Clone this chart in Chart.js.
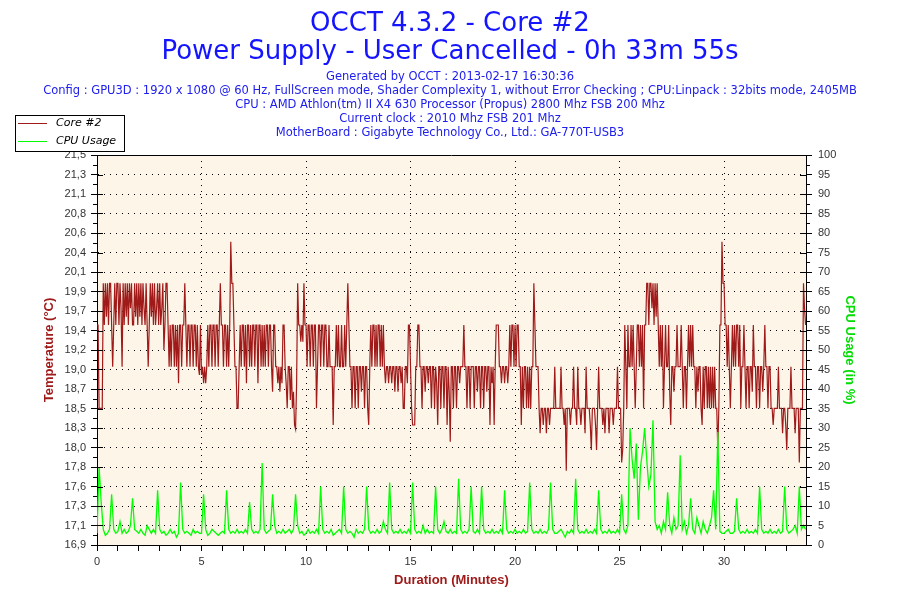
<!DOCTYPE html>
<html>
<head>
<meta charset="utf-8">
<title>OCCT 4.3.2 - Core #2</title>
<script src="https://cdn.jsdelivr.net/npm/chart.js@4.4.0/dist/chart.umd.min.js"></script>
<style>
  html, body { margin: 0; padding: 0; background: #fff; }
  #wrap { width: 900px; height: 600px; }
</style>
</head>
<body>
<div id="wrap"><canvas id="myChart" width="900" height="600"></canvas></div>
<script>
// Texte de l'en-tête
var titleLines = ['OCCT 4.3.2 - Core #2', 'Power Supply - User Cancelled - 0h 33m 55s'];
var infoLines = [
  'Generated by OCCT : 2013-02-17 16:30:36',
  'Config : GPU3D : 1920 x 1080 @ 60 Hz, FullScreen mode, Shader Complexity 1, without Error Checking ; CPU:Linpack : 32bits mode, 2405MB',
  'CPU : AMD Athlon(tm) II X4 630 Processor (Propus) 2800 Mhz FSB 200 Mhz',
  'Current clock : 2010 Mhz FSB 201 Mhz',
  'MotherBoard : Gigabyte Technology Co., Ltd.: GA-770T-USB3'
];
var seriesNames = ['Core #2', 'CPU Usage'];

var durationMin = 33.92;
// pas d'échantillonnage (minutes)
var tempStep = 0.05;
var cpuStep = 0.1;

// Température du core #2 (°C), 20 mesures par minute
var core2Temp = [
  19.5, 19.5, 18.5, 18.5, 18.5, 18.5, 20.0, 19.5, 20.0, 19.6, 20.0, 19.5, 20.0, 20.0, 19.5, 19.0, 19.5, 20.0, 19.5, 20.0,
  20.0, 19.5, 20.0, 19.7, 19.0, 20.0, 19.5, 20.0, 19.6, 20.0, 19.5, 20.0, 19.7, 20.0, 19.5, 19.5, 20.0, 19.6, 20.0, 19.5,
  20.0, 19.6, 20.0, 19.5, 20.0, 19.7, 19.5, 20.0, 19.5, 19.0, 19.5, 20.0, 19.6, 20.0, 19.5, 20.0, 19.5, 19.7, 20.0, 19.5,
  20.0, 19.5, 19.7, 20.0, 19.2, 19.5, 20.0, 20.0, 19.5, 19.0, 19.5, 19.0, 19.5, 19.5, 19.0, 19.5, 19.0, 19.5, 18.8, 19.5,
  19.5, 19.0, 19.5, 19.5, 20.0, 19.5, 19.0, 19.5, 19.5, 19.0, 19.5, 19.5, 19.0, 19.5, 19.5, 19.0, 19.5, 19.0, 18.9, 19.5,
  18.9, 19.0, 18.8, 19.0, 18.8, 19.0, 19.5, 19.0, 19.5, 19.5, 19.0, 19.5, 19.5, 19.0, 19.5, 19.5, 19.0, 19.5, 20.0, 19.5,
  19.5, 19.0, 19.5, 19.5, 19.0, 19.5, 19.0, 19.5, 20.5, 20.0, 20.0, 19.5, 19.0, 19.0, 18.5, 18.5, 19.0, 19.5, 19.0, 19.5,
  19.5, 19.0, 19.5, 18.8, 19.5, 19.5, 19.0, 19.5, 19.0, 19.5, 19.5, 19.0, 19.5, 19.5, 18.8, 19.5, 19.5, 19.0, 19.5, 19.0,
  19.5, 19.0, 19.5, 19.5, 19.0, 19.5, 19.5, 19.0, 18.7, 19.5, 19.5, 19.0, 19.0, 18.8, 19.0, 18.7, 19.0, 18.8, 19.5, 19.5,
  19.0, 18.8, 18.5, 19.0, 19.0, 18.6, 19.0, 18.5, 18.7, 18.3, 18.25, 18.8, 20.0, 19.5, 19.5, 19.3, 19.5, 19.3, 20.0, 19.5,
  19.5, 19.0, 19.5, 19.5, 19.0, 19.5, 19.5, 19.0, 19.5, 19.5, 18.5, 19.0, 19.5, 19.5, 19.0, 19.5, 19.5, 19.0, 19.5, 19.5,
  19.0, 19.0, 19.5, 19.0, 19.0, 19.0, 18.3, 19.0, 19.0, 19.5, 19.0, 19.5, 19.0, 19.0, 19.5, 19.0, 19.0, 19.5, 19.0, 19.5,
  20.0, 19.5, 19.0, 19.0, 18.5, 19.0, 19.0, 18.5, 19.0, 19.0, 18.5, 19.0, 19.0, 18.7, 19.0, 19.0, 18.5, 19.0, 19.0, 18.5,
  18.3, 19.0, 19.5, 19.0, 19.5, 19.5, 19.0, 19.5, 19.0, 19.5, 19.5, 19.0, 19.5, 19.0, 19.5, 19.0, 18.8, 19.0, 19.0, 18.8,
  19.0, 19.0, 18.8, 19.0, 19.0, 18.7, 19.0, 19.0, 18.7, 19.0, 19.0, 18.8, 19.0, 18.5, 18.5, 19.0, 19.0, 18.8, 19.5, 19.5,
  19.0, 18.5, 18.3, 18.3, 18.3, 19.0, 19.0, 19.5, 19.5, 19.0, 19.0, 18.5, 19.0, 19.0, 18.7, 19.0, 19.0, 18.8, 19.0, 19.0,
  18.5, 19.0, 19.0, 18.5, 19.0, 18.8, 18.3, 19.0, 19.0, 18.5, 19.0, 19.0, 18.5, 19.0, 19.0, 18.3, 19.0, 18.7, 18.1, 19.0,
  19.0, 18.5, 19.0, 19.0, 18.5, 19.0, 19.0, 18.8, 19.0, 19.0, 19.0, 19.5, 19.0, 19.0, 18.5, 19.0, 19.0, 18.5, 19.0, 19.0,
  19.0, 18.5, 19.0, 19.0, 18.7, 19.0, 19.0, 18.5, 19.0, 19.0, 18.5, 19.0, 19.0, 18.7, 19.0, 19.0, 18.3, 19.0, 18.8, 19.0,
  18.3, 19.0, 19.5, 19.5, 19.5, 19.0, 19.0, 18.8, 19.0, 19.0, 18.8, 19.0, 19.0, 18.8, 19.0, 19.5, 19.0, 19.5, 19.5, 19.0,
  19.5, 19.0, 19.5, 19.5, 19.0, 19.0, 18.3, 19.0, 18.5, 19.0, 19.0, 18.5, 19.0, 18.5, 19.0, 18.5, 19.0, 19.0, 20.0, 19.5,
  19.0, 19.0, 19.0, 18.5, 18.2, 18.5, 18.5, 18.3, 18.5, 18.5, 18.2, 18.5, 18.5, 18.3, 18.5, 18.5, 18.5, 18.5, 19.0, 18.5,
  18.5, 18.5, 18.5, 18.5, 19.0, 18.5, 18.5, 18.3, 18.5, 17.75, 18.5, 18.5, 18.5, 18.3, 18.5, 18.5, 19.0, 18.5, 18.5, 18.3,
  19.0, 18.5, 18.5, 18.3, 18.5, 18.5, 18.5, 18.2, 19.0, 18.5, 18.5, 18.5, 18.3, 18.0, 18.5, 18.5, 18.5, 18.3, 18.0, 18.5,
  19.0, 18.5, 18.5, 18.5, 18.3, 18.5, 18.2, 18.5, 18.5, 18.5, 18.2, 18.5, 18.5, 18.5, 18.3, 18.5, 18.5, 18.5, 19.0, 18.5,
  18.5, 18.5, 17.85, 18.0, 18.5, 19.5, 19.0, 18.5, 19.5, 19.0, 19.0, 19.5, 19.0, 19.5, 19.0, 18.5, 19.0, 19.5, 19.5, 19.0,
  19.5, 19.0, 19.5, 18.5, 19.5, 19.5, 20.0, 20.0, 19.5, 20.0, 20.0, 19.7, 20.0, 19.5, 20.0, 19.6, 20.0, 19.5, 19.0, 19.5,
  19.0, 19.5, 18.5, 19.0, 19.5, 19.0, 19.0, 19.5, 18.7, 18.3, 19.0, 19.0, 18.7, 19.0, 19.0, 19.5, 19.0, 19.0, 19.0, 19.5,
  19.0, 18.5, 19.0, 19.0, 18.5, 19.0, 19.5, 19.0, 19.5, 19.0, 19.5, 19.0, 19.0, 18.5, 19.0, 18.7, 19.0, 19.0, 18.5, 18.3,
  19.0, 18.5, 19.0, 19.0, 18.5, 19.0, 18.5, 19.0, 18.5, 19.0, 18.5, 19.0, 18.5, 18.5, 18.0, 18.5, 19.5, 19.5, 20.5, 20.0,
  20.0, 19.5, 19.5, 19.0, 19.5, 19.0, 18.5, 19.0, 19.5, 19.0, 19.5, 19.0, 19.5, 19.5, 19.0, 19.5, 18.5, 19.0, 19.0, 19.5,
  19.0, 18.5, 19.0, 19.0, 18.5, 19.0, 19.0, 18.7, 19.5, 19.0, 19.0, 18.5, 19.0, 19.0, 18.5, 19.0, 19.0, 18.7, 19.0, 19.5,
  19.0, 19.0, 18.5, 19.0, 19.0, 18.5, 18.5, 18.3, 18.5, 18.5, 18.5, 18.5, 19.0, 18.5, 18.5, 18.5, 18.2, 18.5, 18.5, 18.3,
  18.0, 18.5, 18.5, 18.5, 19.0, 18.5, 18.5, 18.5, 18.2, 18.5, 18.5, 18.5, 17.85, 18.5, 18.5, 18.5, 20.0, 19.7, 19.5
];

// Charge CPU (%), 10 mesures par minute
var cpuUsage = [
  3, 20, 11, 4, 2.5, 3, 4, 13, 4, 3,
  3.5, 6, 3, 4, 3, 3.5, 5, 12, 4, 3.5,
  3, 4, 3, 2.5, 5, 4, 3, 4, 3, 14,
  4, 3, 3.5, 2.5, 3, 4, 3, 3.5, 2, 3,
  16, 4, 3, 3.5, 3, 2.5, 4, 3, 3.5, 3,
  3, 13, 4, 2.5, 3, 4, 3.5, 3, 2.5, 3,
  3.5, 3, 14, 4, 3, 3.5, 3, 4, 3, 3.5,
  3, 4, 3, 11, 4, 3, 3.5, 3, 4, 21,
  4, 3, 3.5, 4, 13, 5, 3, 3.5, 3, 4,
  3, 3.5, 4, 3, 4, 13, 5, 3, 3.5, 2.5,
  3, 4, 3, 3.5, 3, 4, 3, 15, 4, 3,
  3.5, 3, 4, 2.5, 3, 3.5, 4, 3, 15, 4,
  3, 3.5, 3, 2, 4, 3, 3.5, 3, 4, 15,
  4, 3, 3.5, 3, 4, 3, 3.5, 6, 4, 3,
  16, 4, 3, 3.5, 3, 4, 3, 3.5, 3, 4,
  3, 16, 4, 3, 3.5, 3, 5, 3, 4, 3,
  3.5, 3, 15, 4, 3, 4, 6, 3.5, 3, 4,
  3, 3.5, 3, 17, 4, 3, 3.5, 3, 4, 15,
  3.5, 3, 4, 3, 15, 4, 3, 3.5, 3, 4,
  3, 3.5, 3, 4, 3, 14, 4, 3, 3.5, 3,
  4, 3, 3.5, 3, 4, 3, 3.5, 16, 4, 3,
  3.5, 3, 4, 3, 3.5, 3, 4, 16, 4, 3,
  3, 3.5, 4, 3, 2, 3.5, 3, 4, 3, 17,
  4, 3, 3.5, 3, 4, 3, 3.5, 3, 4, 3,
  14, 4, 3, 3.5, 3, 4, 3, 3.5, 3, 4,
  3, 13, 4, 3, 5, 30, 22, 17, 26, 6.5,
  20, 24, 30, 22, 15, 18, 32, 6, 4, 5,
  3, 6, 4, 13.5, 5, 3, 7, 4, 5, 23,
  4, 6, 3, 5, 12, 4, 3, 7, 5, 3,
  6, 4, 3, 5, 7, 14, 4, 29, 3.5, 3,
  3, 3.5, 4, 3, 3, 3.5, 12, 4, 3, 3.5,
  3, 4, 3, 3.5, 3, 4, 3, 15, 4, 3,
  3.5, 3, 4, 3, 3.5, 3, 4, 3, 3.5, 15,
  4, 3, 3.5, 4, 5, 3, 15, 4, 5, 4
];

// Axe des températures : 21 graduations alignées sur celles du % CPU
var tempMin = 16.86;
var tempMax = 21.54;
var tempTickLabels = ['16,9', '17,1', '17,3', '17,6', '17,8', '18,0', '18,3', '18,5', '18,7', '19,0',
  '19,2', '19,4', '19,7', '19,9', '20,1', '20,4', '20,6', '20,8', '21,1', '21,3', '21,5'];

var tempColor = '#a01a1a';
var cpuColor = '#00ff00';

function toPoints(values, step) {
  return values.map(function(v, i) { return { x: i * step, y: v }; });
}

// fond crème + cadre du graphique + petites graduations
var plotFrame = {
  id: 'plotFrame',
  beforeDraw: function(chart) {
    var a = chart.chartArea, c = chart.ctx;
    c.save();
    c.fillStyle = '#fdf6e8';
    c.fillRect(a.left, a.top, a.right - a.left, a.bottom - a.top);
    c.restore();
  },
  afterDraw: function(chart) {
    var a = chart.chartArea, c = chart.ctx;
    var yl = chart.scales.yTemp;
    c.save();
    c.strokeStyle = '#000';
    c.lineWidth = 1;
    c.beginPath();
    c.moveTo(a.left, Math.round(a.top) + 0.5);
    c.lineTo(a.right, Math.round(a.top) + 0.5);
    for (var k = 0; k < yl.ticks.length; k++) {
      var py = Math.round(yl.getPixelForTick(k)) + 0.5;
      c.moveTo(a.left, py); c.lineTo(a.left + 6, py);
      c.moveTo(a.right - 6, py); c.lineTo(a.right, py);
      if (k < yl.ticks.length - 1) {
        var my = Math.round((yl.getPixelForTick(k) + yl.getPixelForTick(k + 1)) / 2) + 0.5;
        c.moveTo(a.left - 4, my); c.lineTo(a.left, my);
        c.moveTo(a.right, my); c.lineTo(a.right + 4, my);
      }
    }
    c.stroke();
    c.restore();
  }
};

// légende encadrée en haut à gauche
var boxLegend = {
  id: 'boxLegend',
  afterDraw: function(chart) {
    var c = chart.ctx;
    c.save();
    c.fillStyle = '#fff';
    c.fillRect(15, 115, 109, 37);
    c.strokeStyle = '#000';
    c.lineWidth = 1;
    c.strokeRect(15.5, 115.5, 109, 36);
    c.font = 'italic 11px "DejaVu Sans"';
    c.textBaseline = 'middle';
    chart.data.datasets.forEach(function(ds, i) {
      var y = 123.5 + i * 18;
      c.strokeStyle = ds.borderColor;
      c.beginPath();
      c.moveTo(18, y); c.lineTo(47, y);
      c.stroke();
      c.fillStyle = '#000';
      c.fillText(ds.label, 56, y);
    });
    c.restore();
  }
};

var ctx = document.getElementById('myChart').getContext('2d');

var occtChart = new Chart(ctx, {
  type: 'line',
  data: {
    datasets: [{
      label: seriesNames[0],
      data: toPoints(core2Temp, tempStep),
      yAxisID: 'yTemp',
      borderColor: tempColor,
      borderWidth: 1.2,
      pointRadius: 0,
      tension: 0,
      order: 2
    }, {
      label: seriesNames[1],
      data: toPoints(cpuUsage, cpuStep),
      yAxisID: 'yCpu',
      borderColor: cpuColor,
      borderWidth: 1.3,
      pointRadius: 0,
      tension: 0,
      // dessinée au-dessus de la température
      order: 1
    }]
  },
  options: {
    responsive: false,
    animation: false,
    devicePixelRatio: 1,
    layout: { padding: 0 },
    plugins: {
      legend: { display: false },
      tooltip: { enabled: false },
      title: {
        display: true,
        text: titleLines,
        color: '#1414ff',
        font: { family: '"DejaVu Sans"', size: 26, weight: 'normal', lineHeight: '28px' },
        padding: { top: 10, bottom: 4 }
      },
      subtitle: {
        display: true,
        text: infoLines,
        color: '#2020ee',
        font: { family: '"DejaVu Sans"', size: 11.5, lineHeight: '14px' },
        padding: { top: 0, bottom: 15 }
      }
    },
    scales: {
      x: {
        type: 'linear',
        min: 0,
        max: durationMin,
        ticks: {
          stepSize: 1,
          includeBounds: false,
          autoSkip: false,
          maxRotation: 0,
          padding: 4,
          color: '#333',
          font: { family: '"Liberation Sans"', size: 11 },
          callback: function(v) { return v % 5 === 0 ? String(v) : ''; }
        },
        grid: {
          color: function(c) { return c.tick && c.tick.value % 5 === 0 && c.tick.value > 0 ? '#000' : 'rgba(0,0,0,0)'; },
          tickColor: '#000',
          tickLength: 6
        },
        border: { color: '#000', dash: [1, 5] },
        title: {
          display: true,
          text: 'Duration (Minutes)',
          color: tempColor,
          font: { family: '"Liberation Sans"', size: 13, weight: 'bold' },
          padding: { top: 0, bottom: 12 }
        },
        afterFit: function(scale) { scale.height = 55; }
      },
      yTemp: {
        type: 'linear',
        position: 'left',
        min: tempMin,
        max: tempMax,
        afterBuildTicks: function(scale) {
          var n = tempTickLabels.length - 1;
          scale.ticks = tempTickLabels.map(function(l, k) {
            return { value: tempMin + k * (tempMax - tempMin) / n };
          });
        },
        ticks: {
          autoSkip: false,
          padding: 5,
          color: '#333',
          font: { family: '"Liberation Sans"', size: 11 },
          callback: function(v, i) { return tempTickLabels[i]; }
        },
        grid: {
          color: function(c) { return c.index === 0 || c.index === tempTickLabels.length - 1 ? 'rgba(0,0,0,0)' : '#000'; },
          tickColor: '#000',
          tickLength: 6
        },
        border: { color: '#000', dash: [1, 5] },
        title: {
          display: true,
          text: 'Temperature (°C)',
          color: tempColor,
          font: { family: '"Liberation Sans"', size: 13, weight: 'bold' },
          padding: { top: 42, bottom: 0 }
        },
        afterFit: function(scale) { scale.width = 97; }
      },
      yCpu: {
        type: 'linear',
        position: 'right',
        min: 0,
        max: 100,
        ticks: {
          stepSize: 5,
          autoSkip: false,
          padding: 6,
          color: '#333',
          font: { family: '"Liberation Sans"', size: 11 }
        },
        grid: {
          drawOnChartArea: false,
          tickColor: '#000',
          tickLength: 6
        },
        border: { color: '#000' },
        title: {
          display: true,
          text: 'CPU Usage (in %)',
          color: '#00dd00',
          font: { family: '"Liberation Sans"', size: 13, weight: 'bold' },
          padding: { top: 43, bottom: 0 }
        },
        afterFit: function(scale) { scale.width = 94; }
      }
    }
  },
  plugins: [plotFrame, boxLegend]
});
</script>
</body>
</html>
